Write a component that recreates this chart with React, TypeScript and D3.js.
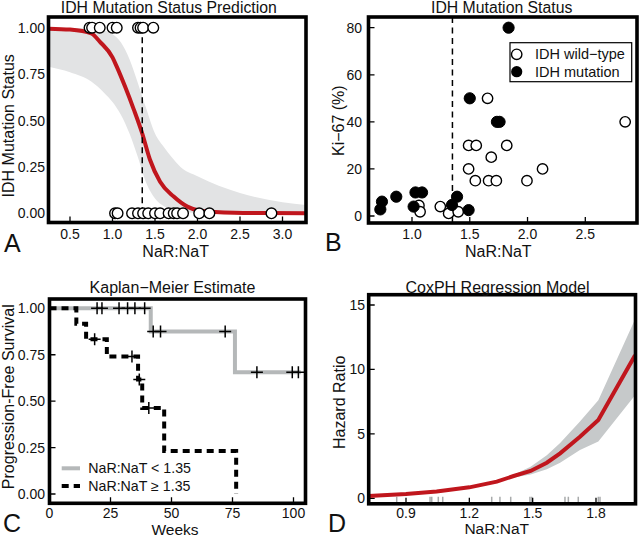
import React from 'react';
import * as d3 from 'd3';

const FONT = '"Liberation Sans", Arial, Helvetica, sans-serif';
const RED = '#c0161d';
const BAND_A = '#e2e3e4';
const BAND_D = '#c6c9ca';
const KM_GRAY = '#b5b8b9';

// ---------- Panel A: IDH Mutation Status Prediction ----------
const aTicksX = [0.5, 1.0, 1.5, 2.0, 2.5, 3.0];
const aTicksY = [0, 0.25, 0.5, 0.75, 1.0];
const aMutantX = [0.73, 0.76, 0.85, 1.0, 1.05, 1.3, 1.33, 1.36, 1.48];
const aWildX = [1.03, 1.06, 1.23, 1.3, 1.36, 1.42, 1.5, 1.56, 1.66, 1.72, 1.76, 1.83, 2.02, 2.14, 2.87];
const aFitX = [0.25, 0.5, 0.75, 0.85, 1.0, 1.05, 1.15, 1.25, 1.35, 1.44, 1.56, 1.72, 1.88, 2.03, 2.43, 2.8, 3.28];
const aFitY = [0.995, 0.99, 0.97, 0.925, 0.84, 0.79, 0.68, 0.56, 0.43, 0.29, 0.17, 0.09, 0.036, 0.014, 0.003, 0.001, 0.0];
const aBandX = [0.25, 0.5, 0.75, 0.9, 1.0, 1.1, 1.2, 1.3, 1.4, 1.5, 1.6, 1.7, 1.8, 2.0, 2.5, 3.0, 3.28];
const aBandUpper = [1.0, 0.999, 0.997, 0.985, 0.965, 0.92, 0.83, 0.7, 0.56, 0.43, 0.36, 0.3, 0.25, 0.2, 0.11, 0.06, 0.045];
const aBandLower = [0.79, 0.76, 0.71, 0.65, 0.6, 0.53, 0.43, 0.3, 0.16, 0.08, 0.04, 0.02, 0.01, 0.002, 0, 0, 0];
const cutoff = 1.35;

// ---------- Panel B: IDH Mutation Status (Ki-67) ----------
const bTicksX = [1.0, 1.5, 2.0, 2.5];
const bTicksY = [0, 20, 40, 60, 80];
const bWildX = [1.06, 1.07, 1.245, 1.317, 1.4, 1.49, 1.49, 1.556, 1.548, 1.654, 1.663, 1.686, 1.73, 1.82, 1.995, 2.13, 2.845];
const bWildY = [4.5, 1.8, 4, 1.1, 1.8, 20, 30, 30, 15, 50, 15, 25, 15, 30, 15, 20, 40];
const bMutX = [0.726, 0.74, 0.864, 1.014, 1.03, 1.087, 1.346, 1.39, 1.49, 1.5, 1.735, 1.758, 1.836];
const bMutY = [2.8, 6.1, 8.2, 4, 10, 10, 4.7, 8.2, 2.5, 50, 40, 40, 80];
const bLegend = ['IDH wild\u2212type', 'IDH mutation'];

// ---------- Panel C: Kaplan-Meier ----------
const cTicksX = [0, 25, 50, 75, 100];
const cTicksY = [0, 0.25, 0.5, 0.75, 1.0];
const kmLowT = [0, 41.5, 76, 103];
const kmLowS = [1, 0.875, 0.656, 0.656];
const kmLowCensor = [19.5, 21.5, 28.5, 32, 35, 39, 42.5, 45.5, 72, 85, 99.5, 102];
const kmHighT = [0, 11, 15, 23.5, 36.3, 38, 47, 76.5];
const kmHighS = [1, 0.917, 0.833, 0.741, 0.617, 0.463, 0.231, 0];
const kmHighCensor = [18.5, 33.8, 36.8, 40.7];
const cLegend = ['NaR:NaT < 1.35', 'NaR:NaT \u2265 1.35'];

// ---------- Panel D: CoxPH ----------
const dTicksX = [0.9, 1.2, 1.5, 1.8];
const dTicksY = [0, 5, 10, 15];
const dX = [0.723, 0.9, 1.045, 1.2, 1.33, 1.41, 1.49, 1.567, 1.63, 1.724, 1.811, 1.985];
const dHR = [0.18, 0.33, 0.52, 0.85, 1.29, 1.73, 2.12, 2.76, 3.49, 4.78, 6.07, 11.1];
const dUpper = [0.3, 0.42, 0.6, 0.9, 1.34, 1.82, 2.45, 3.35, 4.3, 5.95, 7.6, 13.9];
const dLower = [0.1, 0.25, 0.45, 0.8, 1.24, 1.62, 1.85, 2.25, 2.75, 3.75, 4.4, 8.0];
const dRug = [0.856, 1.014, 1.022, 1.053, 1.074, 1.306, 1.345, 1.396, 1.487, 1.495, 1.653, 1.669, 1.716, 1.811, 1.819];

type Box = { l: number; r: number; t: number; b: number };

const Frame = ({ box }: { box: Box }) => (
  <rect x={box.l} y={box.t} width={box.r - box.l} height={box.b - box.t} fill="none" stroke="#000" strokeWidth={3.6} />
);

const txt = (size: number) => ({ fontFamily: FONT, fontSize: size, fill: '#111' });

function stepAt(T: number[], S: number[], t: number) {
  const i = d3.bisectRight(T, t) - 1;
  return S[Math.max(0, i)];
}

export default function App() {
  // Panel A scales
  const boxA: Box = { l: 48.5, r: 306, t: 17, b: 222.5 };
  const xA = d3.scaleLinear().domain([0.5, 3.0]).range([70, 282.5]);
  const yA = d3.scaleLinear().domain([0, 1]).range([213.3, 27.7]);
  const aFit = aFitX.map((x, i) => [x, aFitY[i]] as [number, number]);
  const aBand = aBandX.map((x, i) => ({ x, lo: aBandLower[i], hi: aBandUpper[i] }));
  const areaA = d3.area<any>().x((d) => xA(d.x)).y0((d) => yA(d.lo)).y1((d) => yA(d.hi)).curve(d3.curveMonotoneX);
  const lineA = d3.line<[number, number]>().x((d) => xA(d[0])).y((d) => yA(d[1])).curve(d3.curveMonotoneX);

  // Panel B scales
  const boxB: Box = { l: 368.5, r: 637, t: 17, b: 223 };
  const xB = d3.scaleLinear().domain([1.0, 2.5]).range([412, 585.3]);
  const yB = d3.scaleLinear().domain([0, 80]).range([216, 27.7]);

  // Panel C scales
  const boxC: Box = { l: 49.5, r: 305.5, t: 299, b: 503.3 };
  const xC = d3.scaleLinear().domain([0, 100]).range([49.5, 293.5]);
  const yC = d3.scaleLinear().domain([0, 1]).range([494, 308.3]);
  const stepLine = d3.line<[number, number]>().x((d) => xC(d[0])).y((d) => yC(d[1])).curve(d3.curveStepAfter);
  const lowPts = kmLowT.map((t, i) => [t, kmLowS[i]] as [number, number]);
  const highPts = kmHighT.map((t, i) => [t, kmHighS[i]] as [number, number]);

  // Panel D scales
  const boxD: Box = { l: 368.7, r: 635.5, t: 294.7, b: 503.8 };
  const xD = d3.scaleLinear().domain([0.9, 1.8]).range([406, 596]);
  const yD = d3.scaleLinear().domain([0, 15]).range([498.3, 305]);
  const dBand = dX.map((x, i) => ({ x, lo: dLower[i], hi: dUpper[i] }));
  const areaD = d3.area<any>().x((d) => xD(d.x)).y0((d) => yD(d.lo)).y1((d) => yD(d.hi));
  const lineD = d3.line<[number, number]>().x((d) => xD(d[0])).y((d) => yD(d[1]));
  const dPts = dX.map((x, i) => [x, dHR[i]] as [number, number]);

  const tickLen = 6;
  const f2 = d3.format('.2f');
  const f1 = d3.format('.1f');

  const cross = (cx: number, cy: number, key: string) => (
    <g key={key} stroke="#000" strokeWidth={1.5}>
      <line x1={cx - 6} x2={cx + 6} y1={cy} y2={cy} />
      <line x1={cx} x2={cx} y1={cy - 6} y2={cy + 6} />
    </g>
  );

  return (
    <svg width={640} height={536} style={{ position: 'absolute', left: 0, top: 0, background: '#fff' }}>
      <defs>
        {[['cA', boxA], ['cB', boxB], ['cC', boxC], ['cD', boxD]].map(([id, b]: any) => (
          <clipPath id={id} key={id}>
            <rect x={b.l} y={b.t} width={b.r - b.l} height={b.b - b.t} />
          </clipPath>
        ))}
      </defs>
      <rect width={640} height={536} fill="#fff" />

      {/* ================= Panel A ================= */}
      <g clipPath="url(#cA)">
        <path d={areaA(aBand) || ''} fill={BAND_A} />
        <path d={lineA(aFit) || ''} fill="none" stroke={RED} strokeWidth={4} />
        <line x1={xA(cutoff)} x2={xA(cutoff)} y1={yA(0)} y2={yA(1)} stroke="#000" strokeWidth={1.5} strokeDasharray="6,4" />
        {aTicksX.map((t) => (
          <line key={t} x1={xA(t)} x2={xA(t)} y1={boxA.b} y2={boxA.b - tickLen} stroke="#000" strokeWidth={1.3} />
        ))}
        {aMutantX.map((x, i) => (
          <circle key={'m' + i} cx={xA(x)} cy={yA(1)} r={5.3} fill="#fff" stroke="#000" strokeWidth={1.4} />
        ))}
        {aWildX.map((x, i) => (
          <circle key={'w' + i} cx={xA(x)} cy={yA(0)} r={5.3} fill="#fff" stroke="#000" strokeWidth={1.4} />
        ))}
      </g>
      <Frame box={boxA} />
      {aTicksY.map((t) => (
        <text key={t} x={45} y={yA(t)} dy="0.36em" textAnchor="end" {...txt(14)}>{f2(t)}</text>
      ))}
      {aTicksX.map((t) => (
        <text key={t} x={xA(t)} y={239} textAnchor="middle" {...txt(14)}>{f1(t)}</text>
      ))}
      <text x={168.8} y={12.8} textAnchor="middle" {...txt(15.8)}>IDH Mutation Status Prediction</text>
      <text x={175.7} y={256.5} textAnchor="middle" {...txt(16)}>NaR:NaT</text>
      <text transform="translate(13.5,125.8) rotate(-90)" textAnchor="middle" {...txt(16)}>IDH Mutation Status</text>
      <text x={4} y={251.5} {...txt(25)}>A</text>

      {/* ================= Panel B ================= */}
      <g clipPath="url(#cB)">
        <line x1={xB(cutoff)} x2={xB(cutoff)} y1={boxB.t} y2={boxB.b} stroke="#000" strokeWidth={1.5} strokeDasharray="6,4.5" />
        {bTicksX.map((t) => (
          <line key={t} x1={xB(t)} x2={xB(t)} y1={boxB.b} y2={boxB.b - tickLen} stroke="#000" strokeWidth={1.3} />
        ))}
        {bTicksY.map((t) => (
          <line key={t} x1={boxB.l} x2={boxB.l + tickLen} y1={yB(t)} y2={yB(t)} stroke="#000" strokeWidth={1.3} />
        ))}
        {bWildX.map((x, i) => (
          <circle key={'w' + i} cx={xB(x)} cy={yB(bWildY[i])} r={5.2} fill="#fff" stroke="#000" strokeWidth={1.4} />
        ))}
        {bMutX.map((x, i) => (
          <circle key={'m' + i} cx={xB(x)} cy={yB(bMutY[i])} r={5.6} fill="#000" stroke="#000" strokeWidth={1} />
        ))}
      </g>
      <Frame box={boxB} />
      <rect x={510} y={42.7} width={121.7} height={39} fill="#fff" stroke="#000" strokeWidth={1.2} />
      <circle cx={516.7} cy={54.3} r={5.2} fill="#fff" stroke="#000" strokeWidth={1.4} />
      <circle cx={516.7} cy={71.7} r={5.6} fill="#000" />
      <text x={535} y={58.7} {...txt(14.5)}>{bLegend[0]}</text>
      <text x={535} y={76.5} {...txt(14.5)}>{bLegend[1]}</text>
      {bTicksY.map((t) => (
        <text key={t} x={362} y={yB(t)} dy="0.36em" textAnchor="end" {...txt(14)}>{t}</text>
      ))}
      {bTicksX.map((t) => (
        <text key={t} x={xB(t)} y={239} textAnchor="middle" {...txt(14)}>{f1(t)}</text>
      ))}
      <text x={501.7} y={12.8} textAnchor="middle" {...txt(15.8)}>IDH Mutation Status</text>
      <text x={498.3} y={256.5} textAnchor="middle" {...txt(16)}>NaR:NaT</text>
      <text transform="translate(344,120.7) rotate(-90)" textAnchor="middle" {...txt(16)}>Ki{'\u2212'}67 (%)</text>
      <text x={325} y={250.5} {...txt(25)}>B</text>

      {/* ================= Panel C ================= */}
      <g clipPath="url(#cC)">
        {cTicksX.map((t) => (
          <line key={t} x1={xC(t)} x2={xC(t)} y1={boxC.b} y2={boxC.b - tickLen} stroke="#000" strokeWidth={1.3} />
        ))}
        {cTicksY.map((t) => (
          <line key={t} x1={boxC.l} x2={boxC.l + tickLen} y1={yC(t)} y2={yC(t)} stroke="#000" strokeWidth={1.3} />
        ))}
        <path d={stepLine(lowPts) || ''} fill="none" stroke={KM_GRAY} strokeWidth={4} />
        <path d={stepLine(highPts) || ''} fill="none" stroke="#000" strokeWidth={4} strokeDasharray="7,5" />
        {kmLowCensor.map((t, i) => cross(xC(t), yC(stepAt(kmLowT, kmLowS, t)), 'lc' + i))}
        {kmHighCensor.map((t, i) => cross(xC(t), yC(stepAt(kmHighT, kmHighS, t)), 'hc' + i))}
      </g>
      <Frame box={boxC} />
      <line x1={61.7} x2={80} y1={468.3} y2={468.3} stroke={KM_GRAY} strokeWidth={4} />
      <line x1={61.7} x2={80} y1={486} y2={486} stroke="#000" strokeWidth={4} strokeDasharray="7,5" />
      <text x={88.3} y={473.4} {...txt(14.2)}>{cLegend[0]}</text>
      <text x={88.3} y={490.8} {...txt(14.2)}>{cLegend[1]}</text>
      {cTicksY.map((t) => (
        <text key={t} x={45} y={yC(t)} dy="0.36em" textAnchor="end" {...txt(14)}>{f2(t)}</text>
      ))}
      {cTicksX.map((t) => (
        <text key={t} x={xC(t)} y={518} textAnchor="middle" {...txt(14)}>{t}</text>
      ))}
      <text x={175} y={534.5} textAnchor="middle" {...txt(15.5)}>Weeks</text>
      <text x={172.5} y={292.5} textAnchor="middle" {...txt(16)}>Kaplan{'\u2212'}Meier Estimate</text>
      <text transform="translate(13.5,396.7) rotate(-90)" textAnchor="middle" {...txt(16)}>Progression-Free Survival</text>
      <text x={3} y={532} {...txt(25)}>C</text>

      {/* ================= Panel D ================= */}
      <g clipPath="url(#cD)">
        <path d={areaD(dBand) || ''} fill={BAND_D} />
        {dRug.map((x, i) => (
          <line key={'r' + i} x1={xD(x)} x2={xD(x)} y1={boxD.b} y2={boxD.b - 7} stroke="#a9abac" strokeWidth={1.5} />
        ))}
        {dTicksX.map((t) => (
          <line key={t} x1={xD(t)} x2={xD(t)} y1={boxD.b} y2={boxD.b - tickLen} stroke="#000" strokeWidth={1.3} />
        ))}
        {dTicksY.map((t) => (
          <line key={t} x1={boxD.l} x2={boxD.l + tickLen} y1={yD(t)} y2={yD(t)} stroke="#000" strokeWidth={1.3} />
        ))}
        <path d={lineD(dPts) || ''} fill="none" stroke={RED} strokeWidth={4} />
      </g>
      <Frame box={boxD} />
      {dTicksY.map((t) => (
        <text key={t} x={365} y={yD(t)} dy="0.36em" textAnchor="end" {...txt(14)}>{t}</text>
      ))}
      {dTicksX.map((t) => (
        <text key={t} x={xD(t)} y={518} textAnchor="middle" {...txt(14)}>{f1(t)}</text>
      ))}
      <text x={497.5} y={292.5} textAnchor="middle" {...txt(16)}>CoxPH Regression Model</text>
      <text x={496.7} y={533.5} textAnchor="middle" {...txt(15.5)}>NaR:NaT</text>
      <text transform="translate(345,402.3) rotate(-90)" textAnchor="middle" {...txt(16)}>Hazard Ratio</text>
      <text x={328} y={531.5} {...txt(25)}>D</text>
    </svg>
  );
}
